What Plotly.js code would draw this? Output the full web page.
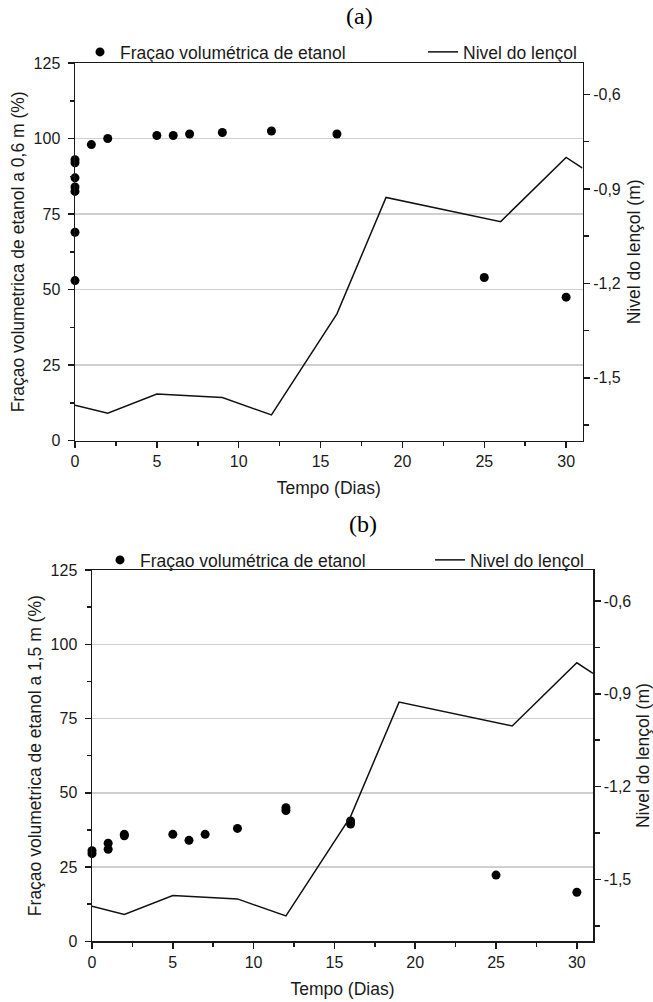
<!DOCTYPE html>
<html>
<head>
<meta charset="utf-8">
<script src="https://cdn.plot.ly/plotly-3.0.1.min.js"></script>
<style>html,body{margin:0;padding:0;background:#fff;}#chart{width:653px;height:1002px;}</style>
</head>
<body>
<div id="chart"></div>
<script>
// ---- data ----
const nivelDias = [0, 2, 5, 9, 12, 16, 19, 23, 26, 30, 31];
const nivel = [-1.587, -1.613, -1.552, -1.563, -1.618, -1.297, -0.927, -0.972, -1.004, -0.800, -0.834];

const diasA = [0, 0, 0, 0, 0, 0, 0, 1, 2, 5, 6, 7, 9, 12, 16, 25, 30];
const fracA = [93, 92, 87, 84, 82.5, 69, 53, 98, 100, 101, 101, 101.5, 102, 102.5, 101.5, 54, 47.5];

const diasB = [0, 0, 1, 1, 2, 2, 5, 6, 7, 9, 12, 12, 16, 16, 25, 30];
const fracB = [30.5, 29.5, 33, 31, 36, 35.5, 36, 34, 36, 38, 45, 44, 40.5, 39.5, 22.3, 16.5];

const rightTickVals = [-0.6, -0.9, -1.2, -1.5];
const rightTickText = ['-0,6', '-0,9', '-1,2', '-1,5'];

const nameFrac = 'Fraçao volumétrica de etanol';
const nameNivel = 'Nivel do lençol';
const titleX = 'Tempo (Dias)';
const titleYA = 'Fraçao volumetrica de etanol a 0,6 m (%)';
const titleYB = 'Fraçao volumetrica de etanol a 1,5 m (%)';
const titleR = 'Nivel do lençol (m)';

// ---- geometry ----
const W = 653, H = 1002;
const FONT = 'Liberation Sans, Arial, sans-serif';
const INK = '#1a1a1a';
const px = v => v / W;
const py = v => 1 - v / H;

const markerStyle = {color: '#000', size: 9, symbol: 'circle'};
const lineStyle = {color: '#111', width: 1.5};

const traces = [
  {x: diasA, y: fracA, type: 'scatter', mode: 'markers', name: nameFrac, marker: markerStyle,
   xaxis: 'x', yaxis: 'y', legend: 'legend', cliponaxis: false},
  {x: nivelDias, y: nivel, type: 'scatter', mode: 'lines', name: nameNivel, line: lineStyle,
   xaxis: 'x', yaxis: 'y2', legend: 'legend3'},
  {x: diasB, y: fracB, type: 'scatter', mode: 'markers', name: nameFrac, marker: markerStyle,
   xaxis: 'x2', yaxis: 'y3', legend: 'legend2', cliponaxis: false},
  {x: nivelDias, y: nivel, type: 'scatter', mode: 'lines', name: nameNivel, line: lineStyle,
   xaxis: 'x2', yaxis: 'y4', legend: 'legend4'}
];

function xAxis(domain, anchor) {
  return {
    domain: domain, anchor: anchor, range: [0, 31], tick0: 0, dtick: 5,
    ticks: 'outside', ticklen: 6, tickwidth: 1.5, tickcolor: INK,
    minor: {tick0: 0, dtick: 2.5, ticks: 'outside', ticklen: 4, tickwidth: 1.5, tickcolor: INK, showgrid: false},
    showline: true, mirror: true, linecolor: INK, linewidth: 1.5,
    showgrid: false, zeroline: false,
    tickfont: {family: FONT, size: 16, color: INK},
    title: {text: titleX, font: {family: FONT, size: 17.5, color: INK}, standoff: 12}
  };
}
function yLeft(domain, anchor, title) {
  return {
    domain: domain, anchor: anchor, range: [0, 125], tick0: 0, dtick: 25,
    ticks: 'outside', ticklen: 6, tickwidth: 1.5, tickcolor: INK, ticklabelstandoff: 4,
    minor: {tick0: 0, dtick: 12.5, ticks: 'outside', ticklen: 4, tickwidth: 1.5, tickcolor: INK, showgrid: false},
    showline: true, linecolor: INK, linewidth: 1.5,
    showgrid: true, gridcolor: '#cfcfcf', gridwidth: 1.5, zeroline: false,
    tickfont: {family: FONT, size: 16, color: INK},
    title: {text: title, font: {family: FONT, size: 17.5, color: INK}, standoff: 4}
  };
}
function yRight(overlay, anchor) {
  return {
    overlaying: overlay, anchor: anchor, side: 'right', range: [-1.7, -0.5],
    tickmode: 'array', tickvals: rightTickVals, ticktext: rightTickText,
    ticks: 'outside', ticklen: 6, tickwidth: 1.5, tickcolor: INK, ticklabelstandoff: 0,
    minor: {tickmode: 'linear', tick0: -0.75, dtick: 0.3, ticks: 'outside', ticklen: 5, tickwidth: 1.5, tickcolor: INK, showgrid: false},
    showline: true, linecolor: INK, linewidth: 1.5,
    showgrid: false, zeroline: false,
    tickfont: {family: FONT, size: 16, color: INK},
    title: {text: titleR, font: {family: FONT, size: 17.5, color: INK}, standoff: 8}
  };
}

const legendFont = {family: FONT, size: 17.5, color: INK};
function leg(xpix, ypix) {
  return {orientation: 'h', x: px(xpix), xanchor: 'left', y: py(ypix), yanchor: 'middle',
          font: legendFont, bgcolor: 'rgba(0,0,0,0)', borderwidth: 0};
}
const layout = {
  width: W, height: H,
  margin: {l: 0, r: 0, t: 0, b: 0},
  paper_bgcolor: '#fff', plot_bgcolor: '#fff',
  showlegend: true,
  xaxis: xAxis([px(75), px(582.5)], 'y'),
  yaxis: yLeft([py(440.7), py(63)], 'x', titleYA),
  yaxis2: yRight('y', 'x'),
  xaxis2: xAxis([px(92), px(593)], 'y3'),
  yaxis3: yLeft([py(941.3), py(570)], 'x2', titleYB),
  yaxis4: yRight('y3', 'x2'),
  legend: leg(80, 52),
  legend3: leg(423, 52),
  legend2: leg(100, 560),
  legend4: leg(430, 560),
  annotations: [
    {text: '(a)', xref: 'paper', yref: 'paper', x: px(359), y: py(16), showarrow: false,
     xanchor: 'center', yanchor: 'middle', font: {family: 'Liberation Serif, Times New Roman, serif', size: 24, color: '#000'}},
    {text: '(b)', xref: 'paper', yref: 'paper', x: px(363), y: py(524), showarrow: false,
     xanchor: 'center', yanchor: 'middle', font: {family: 'Liberation Serif, Times New Roman, serif', size: 24, color: '#000'}}
  ]
};

Plotly.newPlot('chart', traces, layout, {staticPlot: true, displayModeBar: false});
</script>
</body>
</html>
